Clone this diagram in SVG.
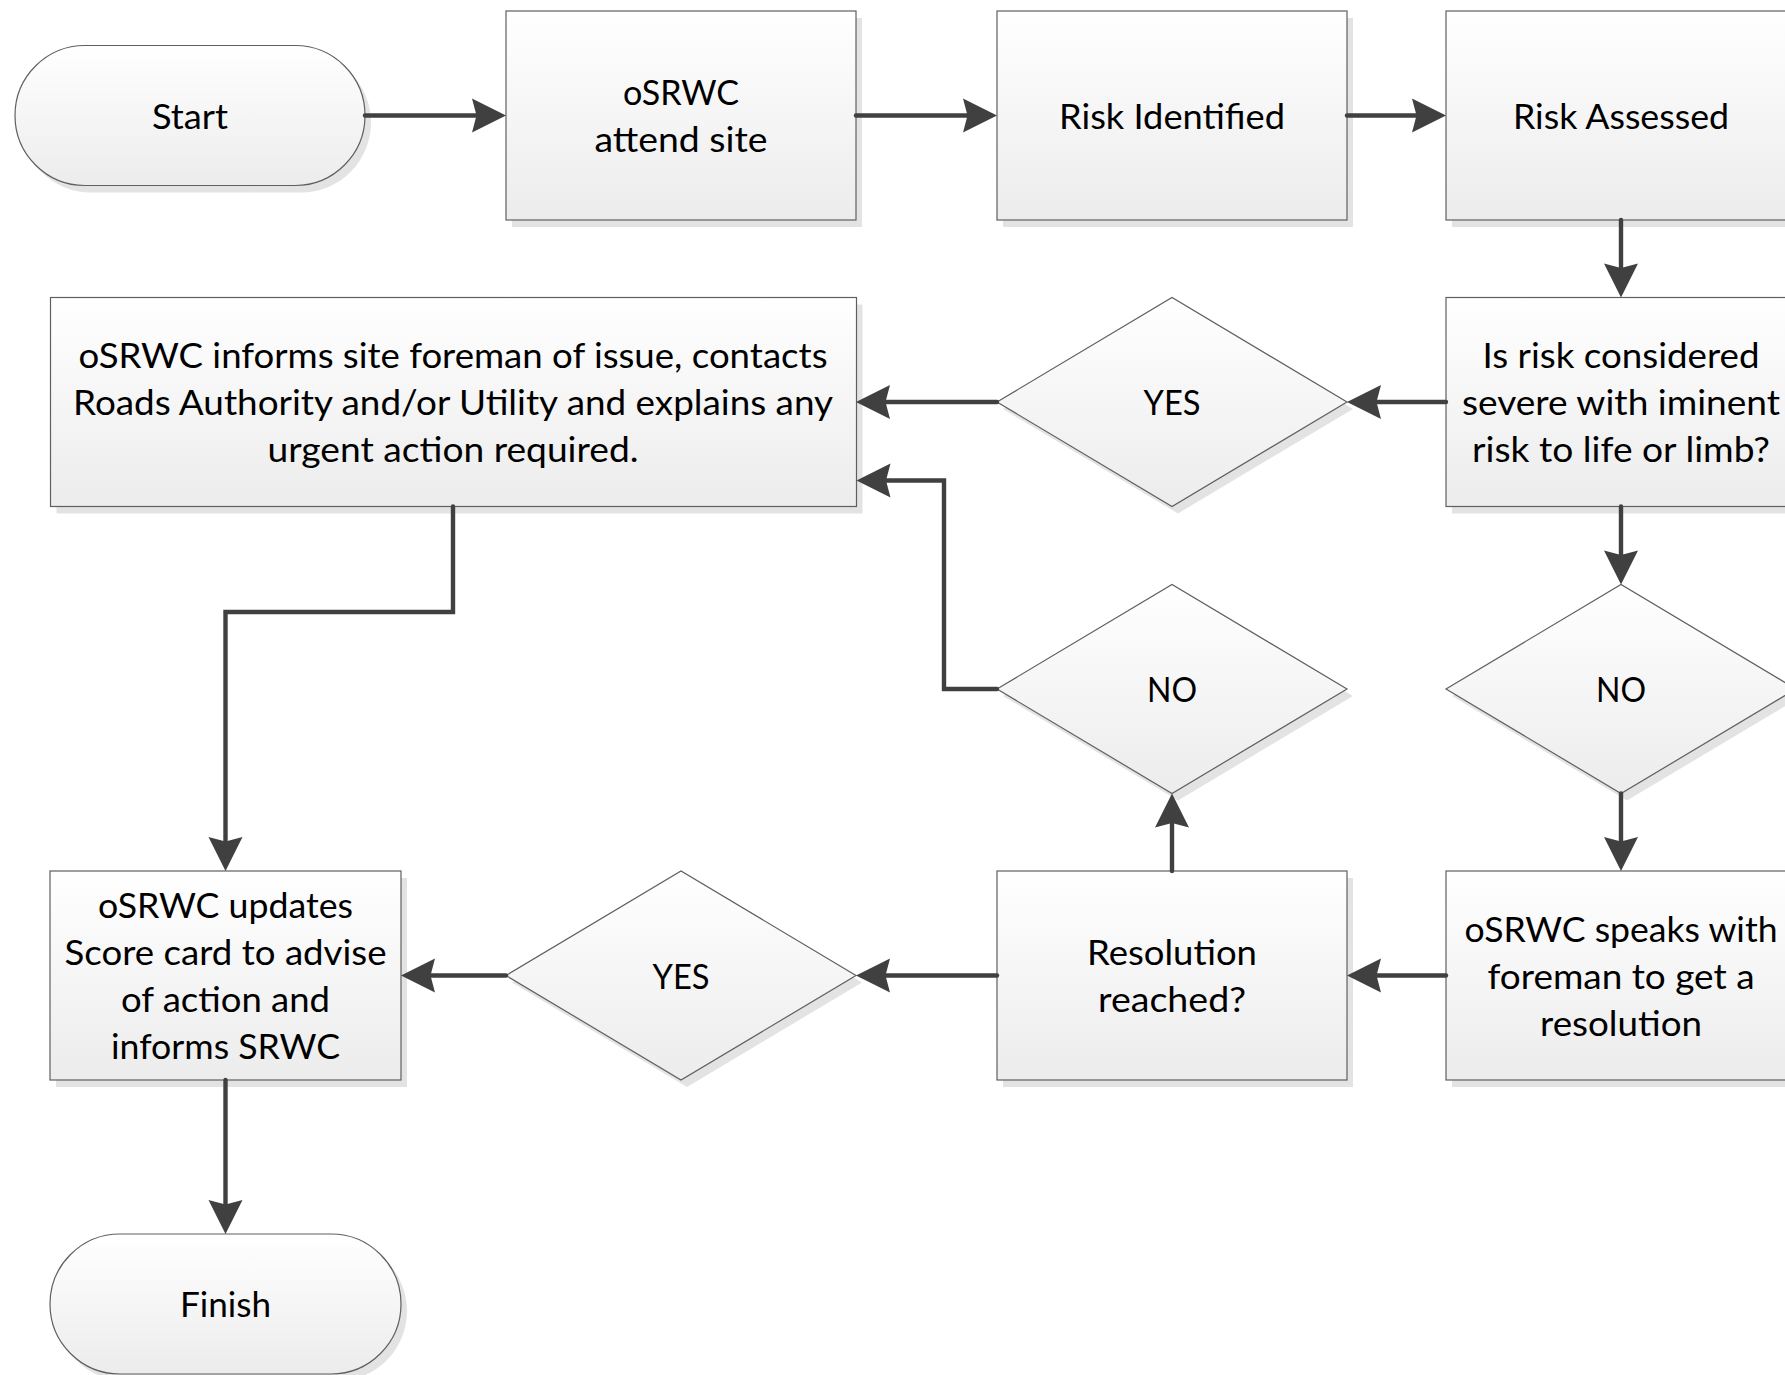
<svg xmlns="http://www.w3.org/2000/svg" width="1785" height="1375" viewBox="0 0 1785 1375">
<defs>
<linearGradient id="g" x1="0" y1="0" x2="0" y2="1">
<stop offset="0" stop-color="#ffffff"/>
<stop offset="1" stop-color="#ececec"/>
</linearGradient>
<marker id="arr" viewBox="-37 -19 39 38" markerWidth="39" markerHeight="38" refX="-20" refY="0" orient="auto" markerUnits="userSpaceOnUse">
<path d="M0,0 L-34,-17 L-29.5,0 L-34,17 Z" fill="#404040"/>
</marker>
</defs>
<style>
.shape{fill:url(#g);stroke:#5f5f5f;stroke-width:1.2}
.shadow{fill:#e3e3e3}
.conn{fill:none;stroke:#404040;stroke-width:4.4;stroke-linejoin:miter;stroke-linecap:round;marker-end:url(#arr)}
text{font-family:Lato,"Open Sans","Liberation Sans",sans-serif;font-size:34.5px;fill:#000;text-anchor:middle}
</style>
<rect width="1785" height="1375" fill="#ffffff"/>

<g id="start">
<rect class="shadow" x="21" y="52.5" width="350" height="140" rx="70"/>
<rect class="shape" x="15" y="45.5" width="350" height="140" rx="70"/>
<text x="190" y="128.7" textLength="76" lengthAdjust="spacingAndGlyphs">Start</text>
</g>
<g id="attend-site">
<rect class="shadow" x="512" y="18" width="350" height="209"/>
<rect class="shape" x="506" y="11" width="350" height="209"/>
<text x="681" y="105.2" textLength="116" lengthAdjust="spacingAndGlyphs">oSRWC</text>
<text x="681" y="152.2" textLength="173" lengthAdjust="spacingAndGlyphs">attend site</text>
</g>
<g id="risk-identified">
<rect class="shadow" x="1003" y="18" width="350" height="209"/>
<rect class="shape" x="997" y="11" width="350" height="209"/>
<text x="1172" y="128.7" textLength="226" lengthAdjust="spacingAndGlyphs">Risk Identified</text>
</g>
<g id="risk-assessed">
<rect class="shadow" x="1452" y="18" width="350" height="209"/>
<rect class="shape" x="1446" y="11" width="350" height="209"/>
<text x="1621" y="128.7" textLength="216" lengthAdjust="spacingAndGlyphs">Risk Assessed</text>
</g>
<g id="informs-foreman">
<rect class="shadow" x="56.5" y="304.5" width="806" height="209"/>
<rect class="shape" x="50.5" y="297.5" width="806" height="209"/>
<text x="453" y="368.2" textLength="749" lengthAdjust="spacingAndGlyphs">oSRWC informs site foreman of issue, contacts</text>
<text x="453" y="415.2" textLength="760" lengthAdjust="spacingAndGlyphs">Roads Authority and/or Utility and explains any</text>
<text x="453" y="462.2" textLength="371" lengthAdjust="spacingAndGlyphs">urgent action required.</text>
</g>
<g id="yes-severe">
<polygon class="shadow" points="1003,409 1178,304.5 1353,409 1178,513.5"/>
<polygon class="shape" points="997,402 1172,297.5 1347,402 1172,506.5"/>
<text x="1172" y="415.2" textLength="57" lengthAdjust="spacingAndGlyphs">YES</text>
</g>
<g id="is-risk-severe">
<rect class="shadow" x="1452" y="304.5" width="350" height="209"/>
<rect class="shape" x="1446" y="297.5" width="350" height="209"/>
<text x="1621" y="368.2" textLength="277" lengthAdjust="spacingAndGlyphs">Is risk considered</text>
<text x="1621" y="415.2" textLength="318" lengthAdjust="spacingAndGlyphs">severe with iminent</text>
<text x="1621" y="462.2" textLength="298" lengthAdjust="spacingAndGlyphs">risk to life or limb?</text>
</g>
<g id="no-resolution">
<polygon class="shadow" points="1003,696 1178,591.5 1353,696 1178,800.5"/>
<polygon class="shape" points="997,689 1172,584.5 1347,689 1172,793.5"/>
<text x="1172" y="702.2" textLength="50" lengthAdjust="spacingAndGlyphs">NO</text>
</g>
<g id="no-severe">
<polygon class="shadow" points="1452,696 1627,591.5 1802,696 1627,800.5"/>
<polygon class="shape" points="1446,689 1621,584.5 1796,689 1621,793.5"/>
<text x="1621" y="702.2" textLength="50" lengthAdjust="spacingAndGlyphs">NO</text>
</g>
<g id="updates-score-card">
<rect class="shadow" x="56" y="878" width="351" height="209"/>
<rect class="shape" x="50" y="871" width="351" height="209"/>
<text x="225.5" y="918.2" textLength="255" lengthAdjust="spacingAndGlyphs">oSRWC updates</text>
<text x="225.5" y="965.2" textLength="322" lengthAdjust="spacingAndGlyphs">Score card to advise</text>
<text x="225.5" y="1012.2" textLength="209" lengthAdjust="spacingAndGlyphs">of action and</text>
<text x="225.5" y="1059.2" textLength="229" lengthAdjust="spacingAndGlyphs">informs SRWC</text>
</g>
<g id="yes-resolution">
<polygon class="shadow" points="512,982.5 687,878 862,982.5 687,1087"/>
<polygon class="shape" points="506,975.5 681,871 856,975.5 681,1080"/>
<text x="681" y="988.7" textLength="57" lengthAdjust="spacingAndGlyphs">YES</text>
</g>
<g id="resolution-reached">
<rect class="shadow" x="1003" y="878" width="350" height="209"/>
<rect class="shape" x="997" y="871" width="350" height="209"/>
<text x="1172" y="965.2" textLength="170" lengthAdjust="spacingAndGlyphs">Resolution</text>
<text x="1172" y="1012.2" textLength="148" lengthAdjust="spacingAndGlyphs">reached?</text>
</g>
<g id="speaks-with-foreman">
<rect class="shadow" x="1452" y="878" width="350" height="209"/>
<rect class="shape" x="1446" y="871" width="350" height="209"/>
<text x="1621" y="941.7" textLength="313" lengthAdjust="spacingAndGlyphs">oSRWC speaks with</text>
<text x="1621" y="988.7" textLength="267" lengthAdjust="spacingAndGlyphs">foreman to get a</text>
<text x="1621" y="1035.7" textLength="162" lengthAdjust="spacingAndGlyphs">resolution</text>
</g>
<g id="finish">
<rect class="shadow" x="56" y="1241" width="351" height="140" rx="70"/>
<rect class="shape" x="50" y="1234" width="351" height="140" rx="70"/>
<text x="225.5" y="1317.2" textLength="91" lengthAdjust="spacingAndGlyphs">Finish</text>
</g>

<g id="connectors">
<path class="conn" d="M365,115.5 H486"/>
<path class="conn" d="M856,115.5 H977"/>
<path class="conn" d="M1347,115.5 H1426"/>
<path class="conn" d="M1621,220 V277.5"/>
<path class="conn" d="M1446,402 H1367"/>
<path class="conn" d="M997,402 H876"/>
<path class="conn" d="M1621,506.5 V564.5"/>
<path class="conn" d="M1621,793.5 V851"/>
<path class="conn" d="M1446,975.5 H1367"/>
<path class="conn" d="M997,975.5 H876"/>
<path class="conn" d="M506,975.5 H421"/>
<path class="conn" d="M1172,871 V813.5"/>
<path class="conn" d="M997,689 H944 V480.5 H876.5"/>
<path class="conn" d="M453,506.5 V612 H225.5 V851"/>
<path class="conn" d="M225.5,1080 V1214"/>
</g>
</svg>
